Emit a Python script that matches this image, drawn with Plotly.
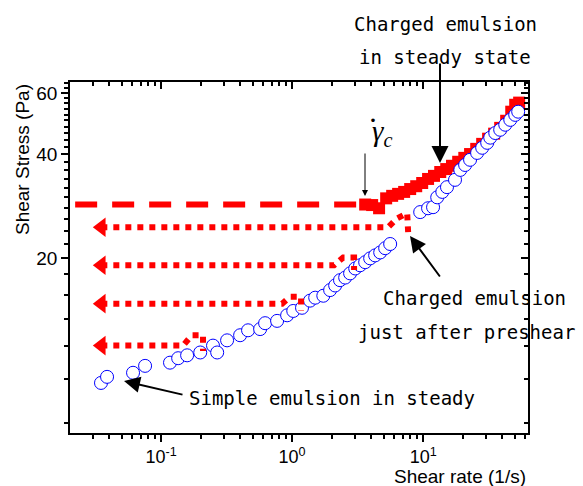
import plotly.graph_objects as go

# ---------------- data ----------------
# Simple emulsion, steady state (open blue circles)
rate_simple = [0.0348, 0.0387, 0.0611, 0.0755, 0.117, 0.135, 0.158, 0.199, 0.249, 0.268,
               0.319, 0.401, 0.461, 0.570, 0.622, 0.768, 0.916, 1.02, 1.19, 1.37,
               1.50, 1.73, 1.95, 2.13, 2.32, 2.54, 2.77, 3.03, 3.30, 3.61,
               3.94, 4.30, 4.70, 5.13, 5.60, 9.49, 10.9, 11.9, 12.8, 14.0,
               15.2, 17.5, 19.2, 20.9, 22.8, 25.8, 28.2, 30.8, 32.5, 35.5,
               38.7, 42.3, 46.2, 50.4, 53.1]
stress_simple = [8.74, 9.10, 9.35, 9.79, 10.0, 10.3, 10.5, 10.7, 11.2, 10.7,
                 11.6, 12.0, 12.4, 12.5, 13.0, 13.2, 13.7, 14.1, 14.4, 15.1,
                 15.4, 15.6, 16.2, 16.7, 17.3, 17.6, 18.1, 18.7, 19.1, 19.5,
                 20.0, 20.4, 20.8, 21.4, 22.0, 27.2, 27.9, 28.1, 30.0, 31.1,
                 32.1, 33.7, 36.0, 37.2, 38.5, 40.3, 41.7, 43.1, 44.6, 46.0,
                 47.0, 48.6, 50.2, 51.9, 53.0]

# Charged emulsion, steady state (filled red squares)
rate_steady = [3.61, 4.08, 4.61, 5.22, 5.80, 6.44, 7.16, 7.96, 8.85, 9.83,
               10.9, 12.1, 13.5, 15.0, 16.6, 18.5, 20.6, 22.8, 25.4, 28.2,
               31.3, 34.8, 38.7, 43.0, 47.0, 50.4, 54.0]
stress_steady = [28.6, 28.5, 27.9, 29.8, 30.3, 30.7, 31.1, 31.7, 32.3, 33.0,
                 33.9, 34.6, 35.5, 36.2, 37.0, 38.0, 39.0, 40.0, 41.4, 42.8,
                 44.3, 45.8, 47.6, 49.9, 53.0, 55.5, 56.3]

# critical point and extrapolated plateau (dashed)
rate_c = 3.61
stress_c = 28.6
rate_plateau_start = 0.0221

# Charged emulsion just after preshear (dotted, extrapolated to low rates)
extrap_rate = 0.035
pre_rates = [
    [extrap_rate, 5.41, 6.34, 7.55, 7.68],
    [extrap_rate, 2.09, 2.45, 2.97, 2.97],
    [extrap_rate, 0.839, 0.966, 1.17, 1.17],
    [extrap_rate, 0.147, 0.172, 0.209, 0.209],
]
pre_stress = [
    [24.6, 24.6, 26.1, 27.0, 23.8],
    [19.1, 19.1, 20.1, 20.1, 18.5],
    [14.8, 14.8, 15.5, 15.5, 14.1],
    [11.2, 11.2, 12.0, 12.0, 10.8],
]

x_ticks = [0.1, 1, 10]
x_ticktext = ["10<sup>-1</sup>", "10<sup>0</sup>", "10<sup>1</sup>"]
y_ticks = [20, 40, 60]
y_ticktext = ["20", "40", "60"]
x_minor = [k * 10 ** d for d in (-2, -1, 0, 1) for k in range(2, 10)]
y_minor = [6.7, 9, 11.2, 13.4, 15.7, 18] + list(range(22, 40, 2)) + list(range(42, 60, 2)) + [62, 64]

x_range = [-1.695, 1.80]
y_range = [0.797, 1.81]

# ---------------- figure ----------------
W, H = 583, 486
ML, MR, MT, MB = 70, 55, 82, 53
PW, PH = W - ML - MR, H - MT - MB


def P(px, py):
    return (px - ML) / PW, (H - MB - py) / PH


RED = "#FF0000"
BLUE = "#0000FF"

fig = go.Figure()

fig.add_trace(go.Scatter(
    x=rate_steady, y=stress_steady, mode="markers",
    marker=dict(symbol="square", size=12, color=RED, line=dict(width=0)),
    showlegend=False, hoverinfo="skip"))

fig.add_trace(go.Scatter(
    x=rate_simple, y=stress_simple, mode="markers",
    marker=dict(symbol="circle", size=13, color="white", line=dict(color=BLUE, width=1)),
    showlegend=False, hoverinfo="skip"))

fig.add_trace(go.Scatter(
    x=[rate_plateau_start, rate_c], y=[stress_c, stress_c], mode="lines",
    line=dict(color=RED, width=6, dash="22px,15px"),
    showlegend=False, hoverinfo="skip"))

for rx, sy in zip(pre_rates, pre_stress):
    fig.add_trace(go.Scatter(
        x=rx, y=sy, mode="lines",
        line=dict(color=RED, width=6, dash="dot"),
        showlegend=False, hoverinfo="skip"))
    fig.add_trace(go.Scatter(
        x=[rx[0]], y=[sy[0]], mode="markers",
        marker=dict(symbol="triangle-left", size=17, color=RED, line=dict(width=0)),
        showlegend=False, hoverinfo="skip"))

# dummy trace for the mirrored (top/right) axes
fig.add_trace(go.Scatter(x=[], y=[], xaxis="x2", yaxis="y2", showlegend=False, hoverinfo="skip"))

tickfont = dict(family="Liberation Sans, Arial", size=18, color="black")
axis_common = dict(showline=True, linecolor="black", linewidth=1.5, showgrid=False,
                   zeroline=False, tickcolor="black", tickwidth=1.5)

fig.update_layout(
    width=W, height=H,
    margin=dict(l=ML, r=MR, t=MT, b=MB),
    paper_bgcolor="white", plot_bgcolor="white",
    xaxis=dict(type="log", range=x_range, tickvals=x_ticks, ticktext=x_ticktext,
               ticks="outside", ticklen=7, tickfont=tickfont,
               minor=dict(tickvals=x_minor, ticks="outside", ticklen=4,
                          tickcolor="black", tickwidth=1.5, showgrid=False),
               **axis_common),
    yaxis=dict(type="log", range=y_range, tickvals=y_ticks, ticktext=y_ticktext,
               ticks="outside", ticklen=7,
               tickfont=dict(family="Liberation Sans, Arial", size=19, color="black"),
               minor=dict(tickvals=y_minor, ticks="outside", ticklen=4,
                          tickcolor="black", tickwidth=1.5, showgrid=False),
               **axis_common),
    xaxis2=dict(type="log", range=x_range, overlaying="x", side="top", anchor="y",
                tickvals=x_ticks, ticks="inside", ticklen=7, showticklabels=False,
                minor=dict(tickvals=x_minor, ticks="inside", ticklen=4,
                           tickcolor="black", tickwidth=1.5, showgrid=False),
                **axis_common),
    yaxis2=dict(type="log", range=y_range, overlaying="y", side="right", anchor="x",
                tickvals=y_ticks, ticks="inside", ticklen=7, showticklabels=False,
                minor=dict(tickvals=y_minor, ticks="inside", ticklen=4,
                           tickcolor="black", tickwidth=1.5, showgrid=False),
                **axis_common),
)

labfont = dict(family="DejaVu Sans Mono", size=19, color="black")
annos = []


def text(px, py, s, font=labfont, **kw):
    x, y = P(px, py)
    annos.append(dict(x=x, y=y, xref="paper", yref="paper", text=s, showarrow=False,
                      xanchor="center", yanchor="middle", font=font, **kw))


def arrow(hx, hy, tx, ty, width=2, size=1.6):
    x, y = P(hx, hy)
    annos.append(dict(x=x, y=y, xref="paper", yref="paper", text="", showarrow=True,
                      ax=tx - hx, ay=ty - hy, arrowhead=2, arrowwidth=width,
                      arrowsize=size, arrowcolor="black"))


serif = dict(family="Liberation Serif, DejaVu Serif", size=29, color="black")
text(445, 24, "Charged emulsion")
text(445, 57, "in steady state")
text(474, 298, "Charged emulsion")
text(466, 332, "just after preshear")
text(332, 398, "Simple emulsion in steady")
text(460, 476, "Shear rate (1/s)", font=dict(family="Liberation Sans, Arial", size=19, color="black"))
text(22, 160, "Shear Stress (Pa)", font=dict(family="Liberation Sans, Arial", size=19, color="black"),
     textangle=-90)
text(382, 133, "<i>γ<sub>c</sub></i>", font=serif)
text(373, 119, "·", font=dict(family="Liberation Serif, DejaVu Serif", size=30, color="black"))

arrow(440, 163, 440, 62, width=2, size=1.7)
arrow(365, 196, 365, 152, width=1, size=1.2)
arrow(410, 236, 441, 278, width=2, size=1.6)
arrow(124, 381, 184, 395, width=2, size=1.6)

fig.update_layout(annotations=annos)

fig.write_html("out.html", config={"displayModeBar": False},
               post_script="document.body.style.margin='0';")
